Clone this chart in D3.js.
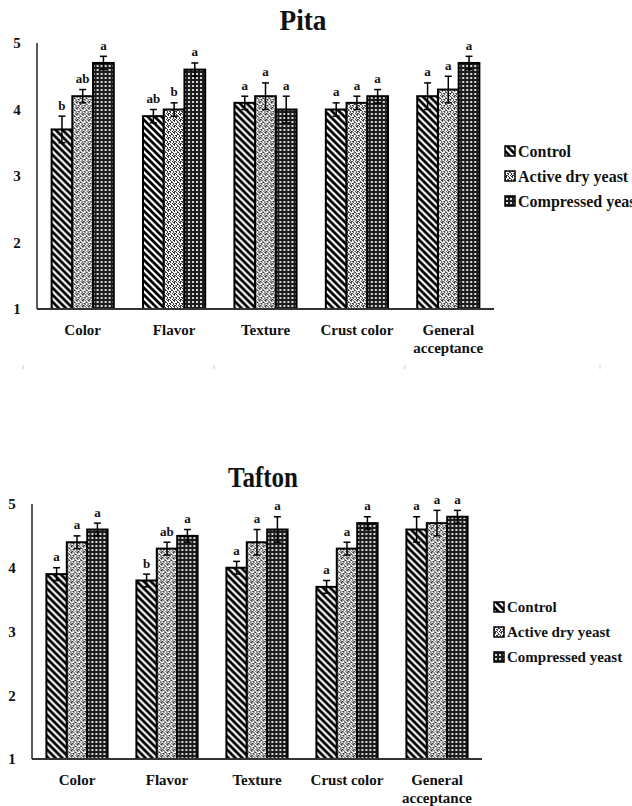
<!DOCTYPE html>
<meta charset="utf-8">
<title>Pita and Tafton sensory scores</title>
<script src="https://d3js.org/d3.v7.min.js"></script>
<style>
  body { margin: 0; background: #fff; }
  svg text { font-family: "Liberation Serif", "Times New Roman", serif; font-weight: bold; fill: #111; }
</style>
<body>
  <svg width="632" height="806"></svg>
  <script>

    // Chart data
    var categories = ["Color", "Flavor", "Texture", "Crust color", "General acceptance"];
    var seriesNames = ["Control", "Active dry yeast", "Compressed yeast"];
    var yTicks = [1, 2, 3, 4, 5];

    var pitaMeans = [[3.7, 4.2, 4.7], [3.9, 4.0, 4.6], [4.1, 4.2, 4.0], [4.0, 4.1, 4.2], [4.2, 4.3, 4.7]];
    var pitaErrors = [[0.2, 0.1, 0.1], [0.1, 0.1, 0.1], [0.1, 0.2, 0.2], [0.1, 0.1, 0.1], [0.2, 0.2, 0.1]];
    var pitaLetters = [["b", "ab", "a"], ["ab", "b", "a"], ["a", "a", "a"], ["a", "a", "a"], ["a", "a", "a"]];

    var taftonMeans = [[3.9, 4.4, 4.6], [3.8, 4.3, 4.5], [4.0, 4.4, 4.6], [3.7, 4.3, 4.7], [4.6, 4.7, 4.8]];
    var taftonErrors = [[0.1, 0.1, 0.1], [0.1, 0.1, 0.1], [0.1, 0.2, 0.2], [0.1, 0.1, 0.1], [0.2, 0.2, 0.1]];
    var taftonLetters = [["a", "a", "a"], ["b", "ab", "a"], ["a", "a", "a"], ["a", "a", "a"], ["a", "a", "a"]];

    var svg = d3.select("svg");
    var defs = svg.append("defs");

    // Fill patterns (black & white, like the Excel original)
    var p1 = defs.append("pattern").attr("id", "pat0")
        .attr("patternUnits", "userSpaceOnUse").attr("width", 7).attr("height", 7);
    p1.append("rect").attr("width", 7).attr("height", 7).attr("fill", "#fff");
    p1.append("path")
        .attr("d", "M-1,-1 L8,8 M-1,6 L1,8 M6,-1 L8,1")
        .attr("stroke", "#000").attr("stroke-width", 2.8);

    // speckled "confetti" fill
    var p2 = defs.append("pattern").attr("id", "pat1")
        .attr("patternUnits", "userSpaceOnUse").attr("width", 6).attr("height", 6);
    p2.append("rect").attr("width", 6).attr("height", 6).attr("fill", "#fff");
    [[0, 0, 2, 1], [1, 1, 1, 1], [3, 0, 1, 1], [4, 1, 1, 1], [4, 2, 2, 1], [0, 3, 1, 2], [2, 3, 2, 1], [3, 4, 1, 1], [5, 5, 1, 1], [1, 5, 2, 1]]
      .forEach(function(r) {
        p2.append("rect").attr("x", r[0]).attr("y", r[1]).attr("width", r[2]).attr("height", r[3]).attr("fill", "#333");
      });

    // dark fill with white dot grid
    var p3 = defs.append("pattern").attr("id", "pat2")
        .attr("patternUnits", "userSpaceOnUse").attr("width", 4).attr("height", 4);
    p3.append("rect").attr("width", 4).attr("height", 4).attr("fill", "#1c1c1c");
    p3.append("rect").attr("x", 1).attr("y", 1).attr("width", 2).attr("height", 2).attr("fill", "#d8d8d8");

    function drawChart(opt) {
      var g = svg.append("g");

      var x = d3.scaleBand()
          .domain(categories)
          .range([opt.left, opt.right])
          .paddingInner(0.32)
          .paddingOuter(0.16);

      var xs = d3.scaleBand()
          .domain(d3.range(seriesNames.length))
          .range([0, x.bandwidth()]);

      var y = d3.scaleLinear()
          .domain([1, 5])
          .range([opt.bottom, opt.top]);

      // Title
      g.append("text")
          .attr("x", opt.titleX)
          .attr("y", opt.titleY)
          .attr("text-anchor", "middle")
          .attr("textLength", opt.titleW)
          .attr("lengthAdjust", "spacingAndGlyphs")
          .style("font-size", "30px")
          .text(opt.title);

      // Y axis line and labels
      g.append("line")
          .attr("x1", opt.left).attr("x2", opt.left)
          .attr("y1", y(5)).attr("y2", y(1))
          .attr("stroke", "#222").attr("stroke-width", 1.5);

      g.selectAll(".ytick")
        .data(yTicks)
        .enter().append("text")
          .attr("class", "ytick")
          .attr("x", opt.left - 20)
          .attr("y", function(d) { return y(d); })
          .attr("dy", "0.35em")
          .attr("text-anchor", "middle")
          .style("font-size", "15px")
          .text(function(d) { return d; });

      // Bars
      var groups = g.selectAll(".cat")
        .data(categories)
        .enter().append("g")
          .attr("class", "cat")
          .attr("transform", function(d) { return "translate(" + x(d) + ",0)"; });

      groups.selectAll("rect")
        .data(function(d, i) { return opt.means[i].map(function(v, j) { return {v: v, s: j}; }); })
        .enter().append("rect")
          .attr("x", function(d) { return xs(d.s); })
          .attr("y", function(d) { return y(d.v); })
          .attr("width", xs.bandwidth())
          .attr("height", function(d) { return y(1) - y(d.v); })
          .attr("fill", function(d) { return "url(#pat" + d.s + ")"; })
          .attr("stroke", "#000")
          .attr("stroke-width", 2);

      // Error bars and significance letters
      groups.each(function(c, i) {
        var grp = d3.select(this);
        opt.means[i].forEach(function(v, j) {
          var cx = xs(j) + xs.bandwidth() / 2;
          var e = opt.errors[i][j];
          grp.append("line")
              .attr("x1", cx).attr("x2", cx)
              .attr("y1", y(v - e)).attr("y2", y(v + e))
              .attr("stroke", "#000").attr("stroke-width", 1.5);
          [v - e, v + e].forEach(function(t) {
            grp.append("line")
                .attr("x1", cx - 3.5).attr("x2", cx + 3.5)
                .attr("y1", y(t)).attr("y2", y(t))
                .attr("stroke", "#000").attr("stroke-width", 1.5);
          });
          grp.append("text")
              .attr("x", cx)
              .attr("y", y(v + e) - 6.5)
              .attr("text-anchor", "middle")
              .style("font-size", "13px")
              .text(opt.letters[i][j]);
        });
      });

      // X axis line
      g.append("line")
          .attr("x1", opt.left).attr("x2", opt.right)
          .attr("y1", y(1)).attr("y2", y(1))
          .attr("stroke", "#333").attr("stroke-width", 2);

      // Category labels (General acceptance wraps on two lines)
      g.selectAll(".xlab")
        .data(categories)
        .enter().append("text")
          .attr("class", "xlab")
          .attr("text-anchor", "middle")
          .attr("y", y(1) + 26)
          .style("font-size", "15px")
          .each(function(d) {
            var words = d === "General acceptance" ? ["General", "acceptance"] : [d];
            var t = d3.select(this);
            words.forEach(function(w, k) {
              t.append("tspan")
                  .attr("x", x(d) + x.bandwidth() / 2)
                  .attr("dy", k === 0 ? 0 : 18)
                  .text(w);
            });
          });

      // Legend
      var legend = g.selectAll(".legend")
        .data(seriesNames)
        .enter().append("g")
          .attr("class", "legend")
          .attr("transform", function(d, i) { return "translate(" + opt.legendX + "," + (opt.legendY + i * 25) + ")"; });

      legend.append("rect")
          .attr("x", 0).attr("y", -5)
          .attr("width", 10).attr("height", 10)
          .attr("fill", function(d, i) { return "url(#pat" + i + ")"; })
          .attr("stroke", "#000").attr("stroke-width", 1.5);

      legend.append("text")
          .attr("x", 13)
          .attr("dy", "0.35em")
          .style("font-size", opt.legendFont)
          .text(function(d) { return d; });
    }

    drawChart({
      title: "Pita", titleX: 303, titleY: 30, titleW: 47,
      left: 37, right: 494, top: 43, bottom: 309,
      means: pitaMeans, errors: pitaErrors, letters: pitaLetters,
      legendX: 505, legendY: 151, legendFont: "16px"
    });

    drawChart({
      title: "Tafton", titleX: 263, titleY: 487, titleW: 70,
      left: 32, right: 482, top: 504, bottom: 759,
      means: taftonMeans, errors: taftonErrors, letters: taftonLetters,
      legendX: 494, legendY: 607, legendFont: "15px"
    });

    // faint leftover tick marks between the two panels
    svg.selectAll(".faint")
      .data([23, 214, 405, 600])
      .enter().append("line")
        .attr("x1", function(d) { return d; }).attr("x2", function(d) { return d; })
        .attr("y1", 365).attr("y2", 369)
        .attr("stroke", "#c5cde0").attr("stroke-width", 1);

  </script>
</body>
